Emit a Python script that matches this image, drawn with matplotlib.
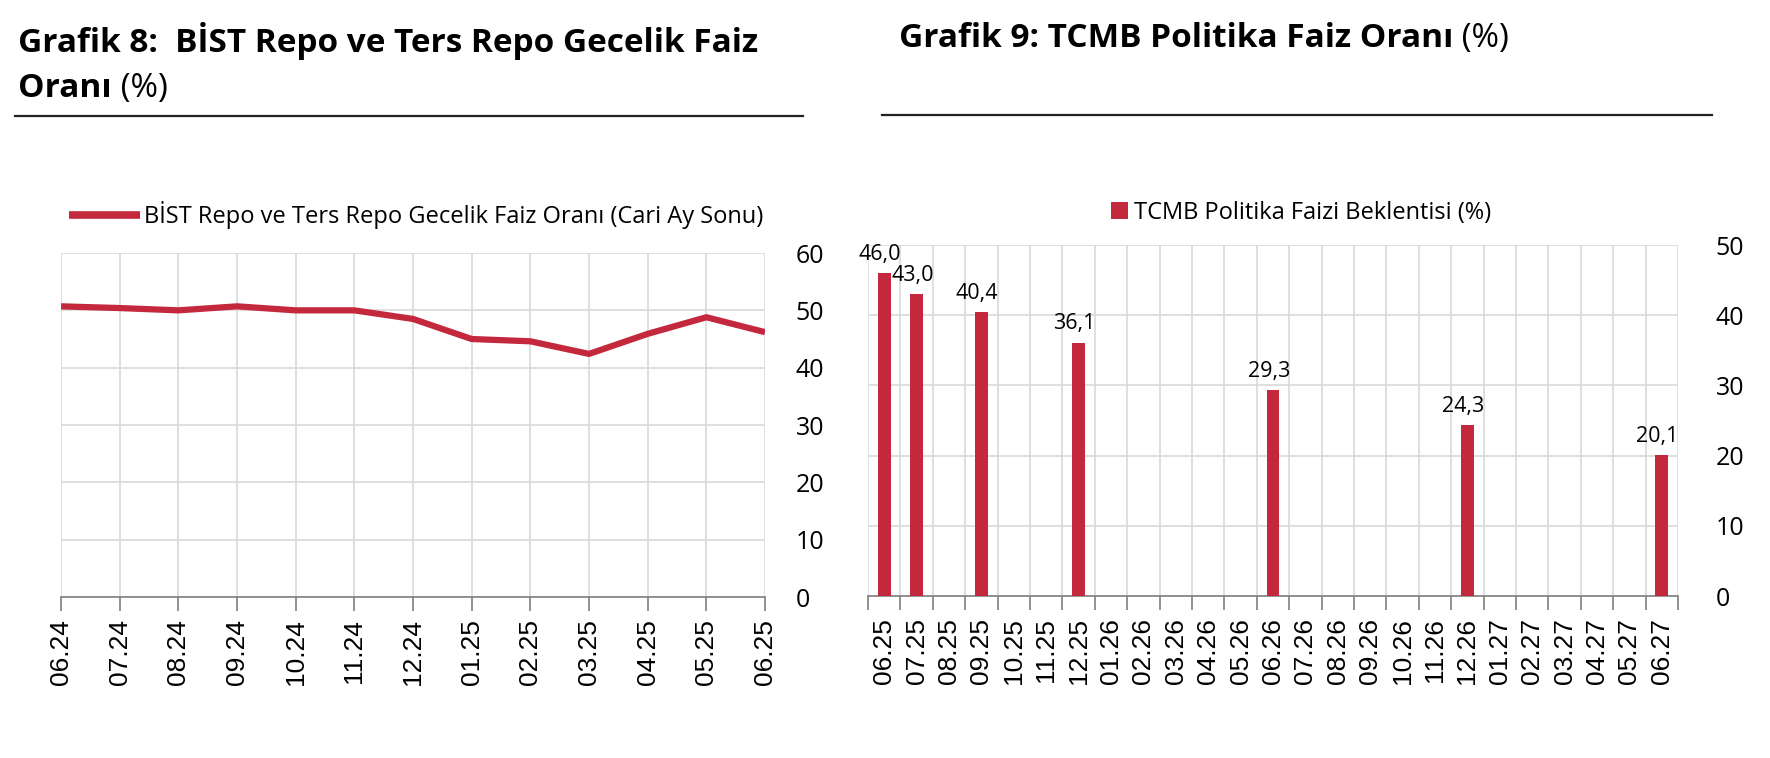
import matplotlib
matplotlib.use("Agg")
import matplotlib.pyplot as plt
from matplotlib.lines import Line2D
import numpy as np

# data
repo_months = ['06.24', '07.24', '08.24', '09.24', '10.24', '11.24', '12.24',
               '01.25', '02.25', '03.25', '04.25', '05.25', '06.25']
repo_rate = [50.7, 50.4, 50.0, 50.7, 50.0, 50.0, 48.5, 45.0, 44.6, 42.4, 45.9, 48.8, 46.2]

exp_axis_months = ['06.25', '07.25', '08.25', '09.25', '10.25', '11.25', '12.25',
                   '01.26', '02.26', '03.26', '04.26', '05.26', '06.26', '07.26',
                   '08.26', '09.26', '10.26', '11.26', '12.26', '01.27', '02.27',
                   '03.27', '04.27', '05.27', '06.27']
exp_months = ['06.25', '07.25', '09.25', '12.25', '06.26', '12.26', '06.27']
exp_rate = [46.0, 43.0, 40.4, 36.1, 29.3, 24.3, 20.1]

red = '#C4283C'
grid_c = '#D9D9D9'
axis_c = '#7F7F7F'
txt_font = 'Open Sans'
tick_font = 'Liberation Sans'

plt.rcParams['font.family'] = [txt_font, 'DejaVu Sans']

fig = plt.figure(figsize=(17.7, 7.58), dpi=100)


def style_axes(ax):
    for s in ['top', 'left', 'right']:
        ax.spines[s].set_visible(False)
    ax.spines['bottom'].set_color(axis_c)
    ax.spines['bottom'].set_linewidth(1.2)
    ax.yaxis.tick_right()
    ax.tick_params(axis='y', length=0, pad=22, labelsize=18)
    ax.tick_params(axis='x', which='major', length=10, color=axis_c, width=1.2)
    ax.set_axisbelow(True)


# ---- left chart: line
ax1 = fig.add_axes([0.0345, 0.2124, 0.3977, 0.4538])
x1 = np.arange(len(repo_months))
ax1.plot(x1, repo_rate, color=red, lw=4.5, solid_capstyle='butt',
         label='BİST Repo ve Ters Repo Gecelik Faiz Oranı (Cari Ay Sonu)')
ax1.set_xlim(0, len(repo_months) - 1)
ax1.set_ylim(0, 60)
ax1.set_yticks(range(0, 61, 10))
ax1.set_xticks(x1)
ax1.set_xticklabels(repo_months, rotation=90, fontfamily=tick_font, fontsize=19)
ax1.grid(True, color=grid_c, lw=1.2)
style_axes(ax1)
ax1.tick_params(axis='x', pad=6)
leg1 = ax1.legend(loc='center', bbox_to_anchor=(0.235, 0.716), bbox_transform=fig.transFigure,
                  frameon=False, fontsize=17, handlelength=3.0, handletextpad=0.15)
leg1.get_lines()[0].set_linewidth(5.5)

# ---- right chart: bars
ax2 = fig.add_axes([0.4904, 0.2137, 0.4576, 0.463])
pos = [exp_axis_months.index(m) for m in exp_months]
bars = ax2.bar(pos, exp_rate, width=0.4, color=red, label='TCMB Politika Faizi Beklentisi (%)', zorder=3)
for p, v in zip(pos, exp_rate):
    ax2.annotate(f'{v:.1f}'.replace('.', ','), (p, v), xytext=(-3, 6), textcoords='offset points',
                 ha='center', va='bottom', fontsize=15.5)
ax2.set_xlim(-0.5, len(exp_axis_months) - 0.5)
ax2.set_ylim(0, 50)
ax2.set_yticks(range(0, 51, 10))
ax2.set_xticks(np.arange(len(exp_axis_months)))
ax2.set_xticklabels(exp_axis_months, rotation=90, fontfamily=tick_font, fontsize=19)
ax2.set_xticks(np.arange(-0.5, len(exp_axis_months)), minor=True)
ax2.grid(True, which='major', axis='y', color=grid_c, lw=1.2)
ax2.grid(True, which='minor', axis='x', color=grid_c, lw=1.2)
style_axes(ax2)
ax2.tick_params(axis='x', which='major', length=0, pad=16)
ax2.tick_params(axis='x', which='minor', length=10, color=axis_c, width=1.2)
ax2.tick_params(axis='y', pad=27)
ax2.legend(loc='center', bbox_to_anchor=(0.735, 0.719), bbox_transform=fig.transFigure,
           frameon=False, fontsize=17, handlelength=0.75, handleheight=0.75, handletextpad=0.25)

# ---- titles
fig.canvas.draw()
r = fig.canvas.get_renderer()


def title_with_unit(x, y, bold_text, size):
    t = fig.text(x, y, bold_text, fontsize=size, fontweight='bold', ha='left', va='baseline')
    bb = t.get_window_extent(renderer=r)
    x_end = bb.x1 / fig.bbox.width
    fig.text(x_end, y, ' (%)', fontsize=size, ha='left', va='baseline')


fs_title = 24
fig.text(18 / 1770, 1 - 52 / 758, 'Grafik 8:  BİST Repo ve Ters Repo Gecelik Faiz',
         fontsize=fs_title, fontweight='bold', ha='left', va='baseline')
title_with_unit(18 / 1770, 1 - 97 / 758, 'Oranı', fs_title)
title_with_unit(899 / 1770, 1 - 47 / 758, 'Grafik 9: TCMB Politika Faiz Oranı', fs_title)

fig.add_artist(Line2D([15 / 1770, 803 / 1770], [1 - 116 / 758] * 2, color='#222222', lw=1.6,
                      transform=fig.transFigure))
fig.add_artist(Line2D([882 / 1770, 1712 / 1770], [1 - 115 / 758] * 2, color='#222222', lw=1.6,
                      transform=fig.transFigure))

fig.savefig('out.png', dpi=100)
